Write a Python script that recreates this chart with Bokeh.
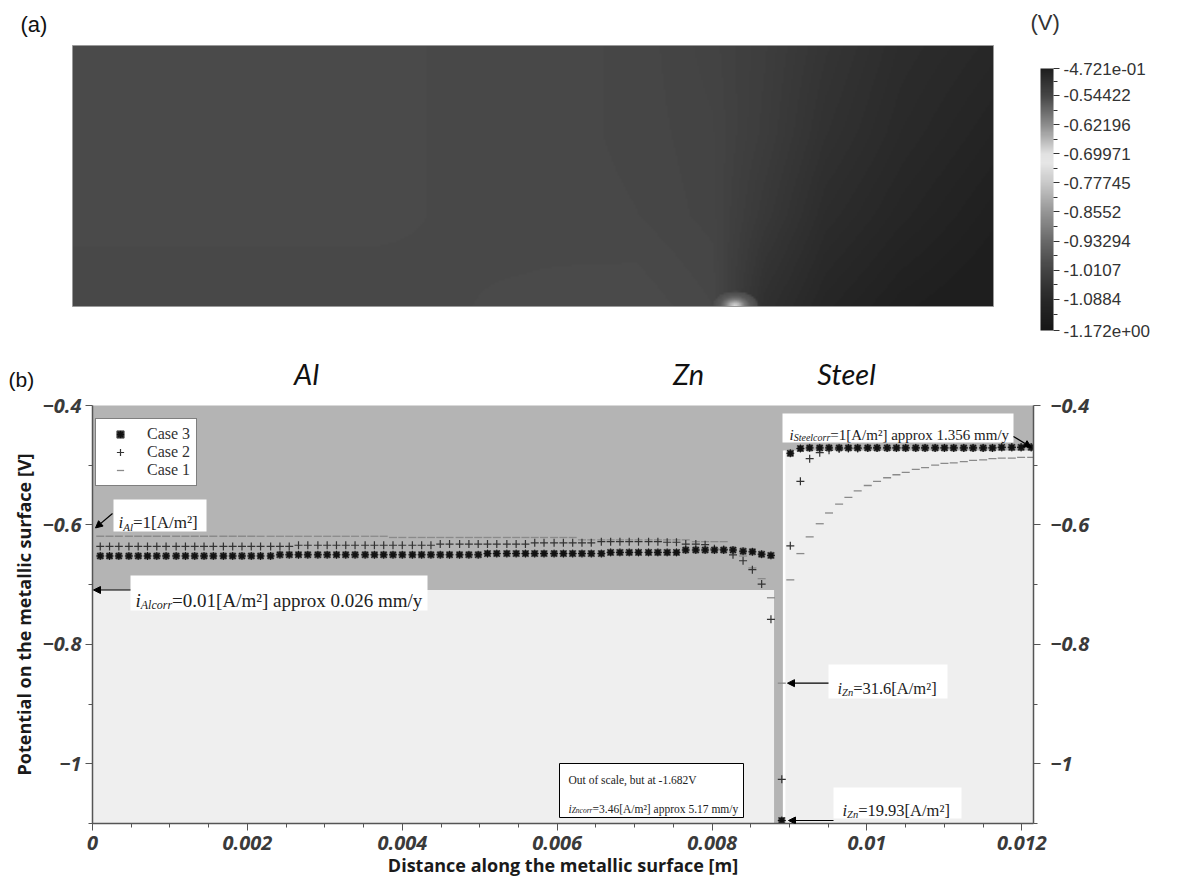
import numpy as np
from bokeh.plotting import figure
from bokeh.models import (Range1d, LinearColorMapper, ColorBar, FixedTicker, Label,
                          BoxAnnotation, Arrow, NormalHead, LinearAxis, Legend, LegendItem,
                          CustomJSTickFormatter, ColumnDataSource)
from bokeh.embed import file_html
from bokeh.resources import INLINE

# ======================= DATA =======================
# ---- Panel (a): potential field in the electrolyte (V) ----
field_x = [0.0, 0.002, 0.004, 0.006, 0.0075, 0.0085, 0.0092, 0.010, 0.011, 0.01222]
field_y = [0.0, 0.0012, 0.0023, 0.00346]
field_v = [
    [-0.548, -0.548, -0.548, -0.549, -0.551, -0.546, -0.505, -0.487, -0.476, -0.469],
    [-0.549, -0.549, -0.549, -0.548, -0.546, -0.542, -0.521, -0.499, -0.487, -0.476],
    [-0.550, -0.550, -0.549, -0.548, -0.545, -0.541, -0.528, -0.508, -0.494, -0.483],
    [-0.550, -0.550, -0.549, -0.548, -0.545, -0.539, -0.530, -0.514, -0.499, -0.490],
]
# bright spot above the Zn strip: radial profile (distance in m -> potential V)
hot_x = 0.0088
hot_r = [0.0, 0.000066, 0.000133, 0.0002, 0.00029, 0.0004]
hot_v = [-0.691, -0.654, -0.600, -0.566, -0.551, -0.40]

# colour bar
cb_ticks = [-1.172, -1.0884, -1.0107, -0.93294, -0.8552, -0.77745, -0.69971, -0.62196, -0.54422, -0.4721]
cb_labels = ["-1.172e+00", "-1.0884", "-1.0107", "-0.93294", "-0.8552", "-0.77745",
             "-0.69971", "-0.62196", "-0.54422", "-4.721e-01"]
cb_grey_v = [-1.172, -1.0884, -1.0107, -0.93294, -0.8552, -0.77745, -0.725, -0.69971, -0.62196, -0.54422, -0.4721]
cb_grey = [22, 40, 68, 105, 150, 200, 230, 226, 140, 70, 30]

# ---- Panel (b): potential on the metallic surface ----
x_al = [0.0001, 0.00022, 0.00034, 0.00047, 0.00059, 0.00071, 0.00083, 0.00095, 0.00108, 0.0012,
        0.00132, 0.00144, 0.00156, 0.00169, 0.00181, 0.00193, 0.00205, 0.00217, 0.0023, 0.00242,
        0.00254, 0.00266, 0.00278, 0.00291, 0.00303, 0.00315, 0.00327, 0.00339, 0.00352, 0.00364,
        0.00376, 0.00388, 0.004, 0.00413, 0.00425, 0.00437, 0.00449, 0.00461, 0.00474, 0.00486,
        0.00498, 0.0051, 0.00522, 0.00535, 0.00547, 0.00559, 0.00571, 0.00583, 0.00596, 0.00608,
        0.0062, 0.00632, 0.00644, 0.00657, 0.00669, 0.00681, 0.00693, 0.00705, 0.00718, 0.0073,
        0.00742, 0.00754, 0.00766, 0.00779, 0.00791, 0.00803, 0.00815, 0.00827, 0.0084, 0.00852,
        0.00864, 0.00876]
case3_al = [-0.652, -0.652, -0.652, -0.652, -0.652, -0.652, -0.652, -0.652, -0.652, -0.652,
            -0.652, -0.652, -0.652, -0.652, -0.652, -0.652, -0.652, -0.652, -0.652, -0.650,
            -0.650, -0.650, -0.650, -0.650, -0.650, -0.650, -0.650, -0.650, -0.650, -0.650,
            -0.650, -0.650, -0.650, -0.650, -0.650, -0.650, -0.650, -0.650, -0.650, -0.650,
            -0.650, -0.648, -0.648, -0.648, -0.648, -0.648, -0.648, -0.648, -0.648, -0.648,
            -0.648, -0.648, -0.648, -0.648, -0.646, -0.646, -0.646, -0.646, -0.646, -0.646,
            -0.646, -0.646, -0.642, -0.642, -0.642, -0.642, -0.642, -0.642, -0.644, -0.645,
            -0.649, -0.651]
case2_al = [-0.636, -0.636, -0.636, -0.636, -0.636, -0.636, -0.636, -0.636, -0.636, -0.636,
            -0.636, -0.636, -0.636, -0.636, -0.636, -0.636, -0.636, -0.636, -0.636, -0.636,
            -0.636, -0.634, -0.634, -0.634, -0.634, -0.634, -0.634, -0.634, -0.634, -0.634,
            -0.634, -0.634, -0.634, -0.634, -0.634, -0.634, -0.632, -0.632, -0.632, -0.632,
            -0.632, -0.632, -0.632, -0.632, -0.632, -0.632, -0.630, -0.630, -0.630, -0.630,
            -0.630, -0.630, -0.630, -0.628, -0.628, -0.628, -0.628, -0.628, -0.628, -0.628,
            -0.629, -0.629, -0.632, -0.632, -0.633, -0.640, -0.641, -0.650, -0.660, -0.675,
            -0.699, -0.758]
case1_al = [-0.619, -0.619, -0.619, -0.619, -0.619, -0.619, -0.619, -0.619, -0.619, -0.619,
            -0.619, -0.619, -0.619, -0.619, -0.619, -0.619, -0.619, -0.619, -0.619, -0.619,
            -0.619, -0.619, -0.619, -0.619, -0.619, -0.619, -0.619, -0.619, -0.619, -0.619,
            -0.619, -0.621, -0.621, -0.621, -0.621, -0.621, -0.621, -0.621, -0.621, -0.621,
            -0.621, -0.621, -0.621, -0.621, -0.621, -0.621, -0.621, -0.621, -0.621, -0.621,
            -0.621, -0.625, -0.625, -0.625, -0.625, -0.625, -0.625, -0.625, -0.625, -0.625,
            -0.625, -0.625, -0.625, -0.628, -0.628, -0.628, -0.628, -0.638, -0.652, -0.672,
            -0.690, -0.722]
x_zn = [0.0089]
case3_zn = [-1.095]
case2_zn = [-1.026]
case1_zn = [-0.865]
x_st = [0.00901, 0.00914, 0.00926, 0.00939, 0.00951, 0.00964, 0.00976, 0.00988, 0.01001, 0.01013,
        0.01026, 0.01038, 0.0105, 0.01063, 0.01075, 0.01088, 0.011, 0.01112, 0.01125, 0.01137,
        0.0115, 0.01162, 0.01174, 0.01187, 0.01199, 0.01212]
case3_st = [-0.480, -0.472, -0.471, -0.471, -0.471, -0.471, -0.471, -0.471, -0.471, -0.471,
            -0.471, -0.471, -0.471, -0.471, -0.471, -0.471, -0.471, -0.471, -0.471, -0.471,
            -0.471, -0.471, -0.470, -0.470, -0.470, -0.470]
case2_st = [-0.635, -0.527, -0.489, -0.479, -0.475, -0.473, -0.472, -0.472, -0.471, -0.471,
            -0.471, -0.471, -0.471, -0.471, -0.471, -0.471, -0.471, -0.471, -0.471, -0.471,
            -0.471, -0.471, -0.470, -0.470, -0.470, -0.470]
case1_st = [-0.692, -0.648, -0.620, -0.598, -0.580, -0.565, -0.554, -0.543, -0.534, -0.527,
            -0.521, -0.516, -0.512, -0.507, -0.504, -0.500, -0.497, -0.496, -0.494, -0.492,
            -0.491, -0.489, -0.488, -0.488, -0.487, -0.487]

# regions (potential thresholds / strip limits)
al_corr_v = -0.709       # i_Alcorr = 0.01 A/m2
steel_corr_v = -0.4755   # i_Steelcorr = 1 A/m2
al_anode_v = -0.605      # i_Al = 1 A/m2
zn_left, zn_right = 0.0088, 0.00893
x_ticks = [0, 0.002, 0.004, 0.006, 0.008, 0.01, 0.012]
y_ticks = [-1.0, -0.8, -0.6, -0.4]

# ======================= PANEL (a) (also holds the labels above panel b) =======================
W = 1177
HA = 391
L_dom = 0.01222
S = L_dom / 921.0
H_dom = 261 * S


def ax_(px):
    return (px - 72) * S


def ay_(py):
    return (306 - py) * S


pa = figure(width=W, height=HA, x_range=Range1d(ax_(0), ax_(W)), y_range=Range1d(ay_(HA), ay_(0)),
            output_backend="svg", toolbar_location=None, min_border=0,
            outline_line_color=None, background_fill_color="white", border_fill_color="white")
pa.axis.visible = False
pa.grid.visible = False

vv = np.linspace(cb_ticks[0], cb_ticks[-1], 256)
gg = np.interp(vv, cb_grey_v, cb_grey).round().astype(int)
palette = ["#%02x%02x%02x" % (g, g, g) for g in gg]
mapper = LinearColorMapper(palette=palette, low=cb_ticks[0], high=cb_ticks[-1])

nx, ny = 461, 131
gx = np.linspace(0, L_dom, nx)
gy = np.linspace(0, H_dom, ny)
rows = np.array([np.interp(gx, field_x, r) for r in field_v])
img = np.array([np.interp(gy, field_y, rows[:, j]) for j in range(nx)]).T
XX, YY = np.meshgrid(gx, gy)
R = np.hypot(XX - hot_x, 1.6 * YY)
spot = np.interp(R, hot_r, hot_v, right=hot_v[-1])
img = np.minimum(img, spot)
pa.image(image=[img], x=0, y=0, dw=L_dom, dh=H_dom, color_mapper=mapper)
pa.quad(left=0, right=L_dom, bottom=0, top=H_dom, fill_color=None, line_color="#9a9a9a", line_width=1)

cb_fmt = CustomJSTickFormatter(args=dict(t=cb_ticks, l=cb_labels),
                               code="const i = t.indexOf(tick); return i >= 0 ? l[i] : '';")
minor_cb = [(a + b) / 2 for a, b in zip(cb_ticks[:-1], cb_ticks[1:])]
cb = ColorBar(color_mapper=mapper, ticker=FixedTicker(ticks=cb_ticks, minor_ticks=minor_cb),
              formatter=cb_fmt, location=(1040, HA - 330), width=13, height=262, padding=0,
              bar_line_color=None, major_tick_out=6, major_tick_in=0, major_tick_line_color="#333",
              minor_tick_out=4, minor_tick_in=0, minor_tick_line_color="#333",
              label_standoff=4, major_label_text_font_size="17px", major_label_text_color="#333",
              major_label_text_font="Liberation Sans", background_fill_alpha=0, border_line_color=None)
pa.add_layout(cb, "center")


def lab(fig_x, fig_y, text, font, size, style="normal", color="#111", align="left", baseline="middle"):
    pa.add_layout(Label(x=ax_(fig_x), y=ay_(fig_y), text=text, text_font=font, text_font_size=size,
                        text_font_style=style, text_color=color, text_align=align, text_baseline=baseline))


lab(1030, 22, "(V)", "Liberation Sans", "22px", color="#333")
lab(20, 24, "(a)", "Liberation Sans", "22px")
lab(8, 390, "(b)", "Liberation Sans", "21px", baseline="bottom")
for txt, cx in [("Al", 306), ("Zn", 688), ("Steel", 846)]:
    lab(cx, 390, txt, "Lato", "29px", style="italic", align="center", baseline="bottom")

# ======================= PANEL (b) =======================
HB = 885 - HA
XR = (0.0, 0.01215)
YR = (-1.1, -0.4)
FX0, FY0, FW, FH = 92, 405, 941, 418


def dx(px):
    return XR[0] + (px - FX0) / FW * (XR[1] - XR[0])


def dy(py):
    return YR[1] - (py - FY0) / FH * (YR[1] - YR[0])


pb = figure(width=W, height=HB, x_range=Range1d(*XR), y_range=Range1d(*YR),
            output_backend="svg", toolbar_location=None,
            min_border_left=FX0, min_border_right=W - FX0 - FW, min_border_top=FY0 - HA,
            min_border_bottom=HB - (FY0 - HA) - FH,
            background_fill_color="#b4b4b4", outline_line_color=None, border_fill_color="white")
pb.grid.visible = False

# shaded regions
pb.quad(left=XR[0], right=zn_left, bottom=YR[0], top=al_corr_v, fill_color="#efefef", line_color=None)
pb.quad(left=zn_right, right=XR[1], bottom=YR[0], top=steel_corr_v, fill_color="#efefef", line_color=None)
pb.segment(x0=[zn_right], y0=[steel_corr_v], x1=[zn_right], y1=[YR[0]], line_color="white", line_width=2.5)

src3 = ColumnDataSource(dict(x=x_al + x_zn + x_st, y=case3_al + case3_zn + case3_st))
src2 = ColumnDataSource(dict(x=x_al + x_zn + x_st, y=case2_al + case2_zn + case2_st))
src1 = ColumnDataSource(dict(x=x_al + x_zn + x_st, y=case1_al + case1_zn + case1_st))

r1 = pb.scatter("x", "y", source=src1, marker="dash", size=8, line_color="#8a8a8a", line_width=1.3)
r2 = pb.scatter("x", "y", source=src2, marker="cross", size=8, line_color="#333333", line_width=1.2)
r3a = pb.scatter("x", "y", source=src3, marker="square", size=6, fill_color="#1a1a1a", line_color="#555555", line_width=1)
r3b = pb.scatter("x", "y", source=src3, marker="asterisk", size=8, line_color="#111111", line_width=1)

legend = Legend(items=[LegendItem(label="Case 3", renderers=[r3a, r3b]),
                       LegendItem(label="Case 2", renderers=[r2]),
                       LegendItem(label="Case 1", renderers=[r1])],
                location=(3, 337), padding=6, spacing=0, margin=0,
                glyph_width=36, glyph_height=18, label_height=18, label_standoff=9,
                label_text_font="Liberation Serif", label_text_font_size="16px", label_text_color="#333",
                border_line_color="black", border_line_width=1,
                background_fill_color="white", background_fill_alpha=1)
pb.add_layout(legend, "center")

# axes
yfmt = CustomJSTickFormatter(code="return (tick < 0 ? '\u2212' : '') + String(Math.abs(tick));")
xfmt = CustomJSTickFormatter(code="return String(tick);")
minor_x = [round(0.0005 * k, 4) for k in range(25)]
minor_y = [-1.1, -0.9, -0.7, -0.5]

xax = pb.xaxis[0]
lax = pb.yaxis[0]
xax.ticker = FixedTicker(ticks=x_ticks, minor_ticks=minor_x)
xax.formatter = xfmt
lax.ticker = FixedTicker(ticks=y_ticks, minor_ticks=minor_y)
lax.formatter = yfmt
right_ax = LinearAxis(ticker=FixedTicker(ticks=y_ticks, minor_ticks=minor_y), formatter=yfmt)
pb.add_layout(right_ax, "right")

for ax in [xax, lax, right_ax]:
    ax.axis_line_color = "#555"
    ax.axis_line_width = 1.5
    ax.major_tick_line_color = "#555"
    ax.minor_tick_line_color = "#555"
    ax.major_tick_out = 7
    ax.major_tick_in = 0
    ax.minor_tick_out = 4
    ax.minor_tick_in = 0
    ax.major_label_text_font = "Open Sans"
    ax.major_label_text_font_size = "20px"
    ax.major_label_text_font_style = "bold italic"
    ax.major_label_text_color = "#3a3a3a"
    ax.axis_label_text_font = "Open Sans"
    ax.axis_label_text_font_size = "18px"
    ax.axis_label_text_font_style = "bold"
    ax.axis_label_text_color = "#1a1a1a"

xax.major_label_standoff = 5
xax.axis_label = "Distance along the metallic surface [m]"
xax.axis_label_standoff = 0
lax.major_label_standoff = 4
lax.axis_label = "Potential on the metallic surface [V]"
lax.axis_label_standoff = 4
right_ax.major_label_standoff = 10

# rich text helper (Times-like metrics)
WN = {' ': 250, ',': 250, '-': 333, '.': 250, '/': 278, '=': 564, '[': 333, ']': 333, '\u00b2': 300,
      'A': 722, 'O': 722, 'V': 722, 'Z': 611, 'S': 556, 'a': 444, 'b': 500, 'c': 444, 'e': 444,
      'f': 333, 'i': 278, 'l': 278, 'm': 778, 'n': 500, 'o': 500, 'p': 500, 'r': 333, 's': 389,
      't': 278, 'u': 500, 'x': 500, 'y': 500}
WI = {'A': 611, 'S': 500, 'Z': 556, 'a': 500, 'r': 389}


def tw(s, size, style):
    tot = 0
    for c in s:
        if style == "italic" and c in WI:
            tot += WI[c]
        else:
            tot += WN.get(c, 500)
    return tot * size / 1000.0


def rich(x_px, base_px, parts, color="#222"):
    cur = x_px
    for txt, size, style, drop in parts:
        pb.add_layout(Label(x=dx(cur), y=dy(base_px + drop), text=txt, text_font="Liberation Serif",
                            text_font_size="%gpx" % size, text_font_style=style, text_color=color,
                            text_baseline="alphabetic", text_align="left"))
        cur += tw(txt, size, style)


def box(l, t, r, b, border=None):
    pb.add_layout(BoxAnnotation(left=dx(l), right=dx(r), top=dy(t), bottom=dy(b),
                                fill_color="white", fill_alpha=1,
                                line_color=border if border else None, line_width=1, line_alpha=1))


def arrow(x0, y0, x1, y1):
    pb.add_layout(Arrow(end=NormalHead(size=7, fill_color="black", line_color="black"),
                        x_start=x0, y_start=y0, x_end=x1, y_end=y1,
                        line_color="black", line_width=1.2))


# annotations
box(113, 499, 206, 531)
rich(118, 522, [("i", 17, "italic", 0), ("Al", 11, "italic", 4), ("=1[A/m\u00b2]", 17, "normal", 0)])
arrow(dx(112), dy(513), dx(95), al_anode_v)

box(130, 575, 427, 610)
rich(135, 600, [("i", 19, "italic", 0), ("Alcorr", 12, "italic", 4),
                ("=0.01[A/m\u00b2] approx 0.026 mm/y", 19, "normal", 0)])
arrow(dx(130), al_corr_v, dx(93), al_corr_v)

box(782, 413, 1013, 442)
rich(789, 434, [("i", 15, "italic", 0), ("Steelcorr", 10, "italic", 3),
                ("=1[A/m\u00b2] approx 1.356 mm/y", 15, "normal", 0)])
arrow(dx(1013), dy(436), x_st[-1], case3_st[-1])

box(828, 664, 947, 698)
rich(837, 688, [("i", 16.5, "italic", 0), ("Zn", 10.5, "italic", 3.5), ("=31.6[A/m\u00b2]", 16.5, "normal", 0)])
arrow(dx(828), case1_zn[0], dx(787), case1_zn[0])

box(833, 787, 961, 818)
rich(842, 810, [("i", 16.5, "italic", 0), ("Zn", 10.5, "italic", 3.5), ("=19.93[A/m\u00b2]", 16.5, "normal", 0)])
arrow(dx(833), case3_zn[0], dx(788), case3_zn[0])

box(559, 763, 743, 817, border="black")
rich(568, 779, [("Out of scale, but at -1.682V", 11.5, "normal", 0)])
rich(568, 808, [("i", 11.5, "italic", 0), ("Zncorr", 7.5, "italic", 2),
                ("=3.46[A/m\u00b2] approx 5.17 mm/y", 11.5, "normal", 0)])

open("out.html", "w").write(file_html([pa, pb], INLINE))
